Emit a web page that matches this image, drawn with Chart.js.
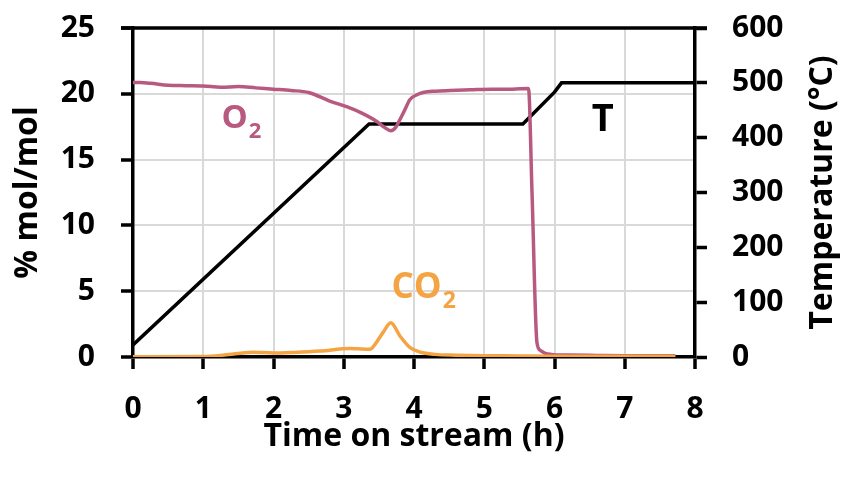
<!DOCTYPE html>
<html>
<head>
<meta charset="utf-8">
<script src="https://cdn.jsdelivr.net/npm/chart.js@4/dist/chart.umd.min.js"></script>
<style>
  html, body { margin: 0; padding: 0; background: #fff; }
  #wrap { width: 844px; height: 479px; }
</style>
</head>
<body>
<div id="wrap"><canvas id="chart" width="844" height="479"></canvas></div>
<script>
// Time on stream (h) and measured gas fractions (% mol/mol)
const o2Time = [0, 0.1, 0.25, 0.5, 0.75, 1.0, 1.25, 1.5, 1.75, 2.0, 2.25, 2.5, 2.8, 3.05, 3.25, 3.47, 3.58, 3.67, 3.74, 3.8, 3.88, 3.94, 4.05, 4.13, 4.3, 4.51, 4.8, 5.1, 5.4, 5.63, 5.68, 5.75, 5.8, 5.86, 5.95, 6.2, 6.6, 7.0, 7.72];
const o2Values = [20.85, 20.85, 20.8, 20.65, 20.62, 20.6, 20.5, 20.55, 20.45, 20.35, 20.25, 20.1, 19.45, 19.0, 18.55, 17.9, 17.45, 17.2, 17.45, 18.05, 18.9, 19.55, 19.95, 20.1, 20.2, 20.25, 20.3, 20.35, 20.35, 20.4, 12.5, 1.1, 0.5, 0.3, 0.2, 0.15, 0.12, 0.1, 0.1];

const co2Time = [0, 1.0, 1.3, 1.7, 2.0, 2.3, 2.66, 3.09, 3.2, 3.37, 3.45, 3.56, 3.67, 3.8, 3.94, 4.09, 4.3, 4.6, 5.0, 5.5, 6.0, 7.0, 7.72];
const co2Values = [0.02, 0.04, 0.15, 0.37, 0.3, 0.35, 0.45, 0.65, 0.62, 0.58, 1.0, 1.87, 2.6, 1.6, 0.73, 0.37, 0.2, 0.14, 0.1, 0.08, 0.05, 0.05, 0.05];

// Reactor temperature program (°C)
const tempTime = [0, 3.36, 5.55, 6.0, 6.1, 8];
const tempValues = [22, 425, 425, 483, 500, 500];

const xTicks = [0, 1, 2, 3, 4, 5, 6, 7, 8];

const FONT = 'Open Sans';
const O2_COLOR = '#b85a80';
const CO2_COLOR = '#f5a443';
const GRID_COLOR = '#d9d9d9';
const TICK_LEN = 12;
const AXIS_WIDTH = 3.5;

function toPoints(xs, ys) {
    return xs.map((x, i) => ({ x: x, y: ys[i] }));
}

// In-plot labels, placed in data coordinates
const seriesLabels = [
    { main: 'O', sub: '2', x: 1.26, y: 17.4, color: O2_COLOR, size: 33 },
    { main: 'CO', sub: '2', x: 3.68, y: 4.5, color: CO2_COLOR, size: 35 },
    { main: 'T', sub: '', x: 6.53, y: 17.2, color: '#000', size: 38 }
];

// vertical axes: fixed width, no extra label padding above/below the plot
function fixVertical(width) {
    return scale => {
        scale.width = width;
        scale.paddingTop = 0;
        scale.paddingBottom = 0;
    };
}

/**
 * Top frame line, axis titles and series labels
 */
const textPlugin = {
    id: 'chartText',
    afterDraw(chart) {
        const ctx = chart.ctx;
        const area = chart.chartArea;
        const midY = (area.top + area.bottom) / 2;
        const midX = (area.left + area.right) / 2;

        ctx.save();
        ctx.globalAlpha = 1;
        ctx.setLineDash([]);

        // top frame, running out over both tick columns
        ctx.fillStyle = '#000';
        ctx.fillRect(area.left - TICK_LEN, area.top - AXIS_WIDTH / 2,
            area.right - area.left + 2 * TICK_LEN, AXIS_WIDTH);

        ctx.font = `bold 32px "${FONT}"`;
        ctx.textAlign = 'center';
        ctx.textBaseline = 'alphabetic';

        // left axis title
        ctx.save();
        ctx.translate(37, midY);
        ctx.rotate(-Math.PI / 2);
        ctx.fillText('% mol/mol', 0, 0);
        ctx.restore();

        // right axis title
        ctx.save();
        ctx.translate(832, midY);
        ctx.rotate(-Math.PI / 2);
        ctx.fillText('Temperature (°C)', 0, 0);
        ctx.restore();

        // bottom axis title
        ctx.fillText('Time on stream (h)', midX, 446);

        // series labels with subscripts
        const xs = chart.scales.x;
        const ys = chart.scales.y;
        ctx.textAlign = 'left';
        seriesLabels.forEach(lbl => {
            const px = xs.getPixelForValue(lbl.x);
            const py = ys.getPixelForValue(lbl.y);
            ctx.fillStyle = lbl.color;
            ctx.font = `bold ${lbl.size}px "${FONT}"`;
            ctx.fillText(lbl.main, px, py);
            if (lbl.sub) {
                const w = ctx.measureText(lbl.main).width;
                ctx.font = `bold ${Math.round(lbl.size * 0.66)}px "${FONT}"`;
                ctx.fillText(lbl.sub, px + w + 1, py + lbl.size * 0.3);
            }
        });
        ctx.restore();
    }
};

const tickFont = { family: FONT, size: 30, weight: 'bold' };

new Chart(document.getElementById('chart').getContext('2d'), {
    type: 'line',
    data: {
        datasets: [
            {
                label: 'CO2',
                data: toPoints(co2Time, co2Values),
                borderColor: CO2_COLOR,
                borderWidth: 3.5,
                pointRadius: 0,
                cubicInterpolationMode: 'monotone',
                yAxisID: 'y'
            },
            {
                label: 'O2',
                data: toPoints(o2Time, o2Values),
                borderColor: O2_COLOR,
                borderWidth: 3.5,
                pointRadius: 0,
                cubicInterpolationMode: 'monotone',
                yAxisID: 'y'
            },
            {
                label: 'T',
                data: toPoints(tempTime, tempValues),
                borderColor: '#000',
                borderWidth: 3.5,
                pointRadius: 0,
                tension: 0,
                yAxisID: 'y1'
            }
        ]
    },
    options: {
        responsive: false,
        animation: false,
        layout: { padding: { top: 28, left: 0, right: 0, bottom: 0 } },
        plugins: {
            legend: { display: false },
            tooltip: { enabled: false }
        },
        scales: {
            x: {
                type: 'linear',
                min: 0,
                max: 8,
                afterFit: scale => {
                    scale.height = 122;
                    scale.paddingLeft = 0;
                    scale.paddingRight = 0;
                },
                afterBuildTicks: scale => { scale.ticks = xTicks.map(v => ({ value: v })); },
                ticks: { font: tickFont, color: '#000', padding: 22, maxRotation: 0 },
                grid: { color: GRID_COLOR, lineWidth: 2, tickColor: '#000', tickWidth: AXIS_WIDTH, tickLength: TICK_LEN },
                border: { color: '#000', width: AXIS_WIDTH }
            },
            y: {
                position: 'left',
                min: 0,
                max: 25,
                afterFit: fixVertical(133),
                ticks: { stepSize: 5, font: tickFont, color: '#000', padding: 26 },
                grid: { color: GRID_COLOR, lineWidth: 2, tickColor: '#000', tickWidth: AXIS_WIDTH, tickLength: TICK_LEN },
                border: { color: '#000', width: AXIS_WIDTH }
            },
            y1: {
                position: 'right',
                min: 0,
                max: 600,
                afterFit: fixVertical(149),
                ticks: { stepSize: 100, font: tickFont, color: '#000', padding: 25 },
                grid: { drawOnChartArea: false, tickColor: '#000', tickWidth: AXIS_WIDTH, tickLength: TICK_LEN },
                border: { color: '#000', width: AXIS_WIDTH }
            }
        }
    },
    plugins: [textPlugin]
});
</script>
</body>
</html>
